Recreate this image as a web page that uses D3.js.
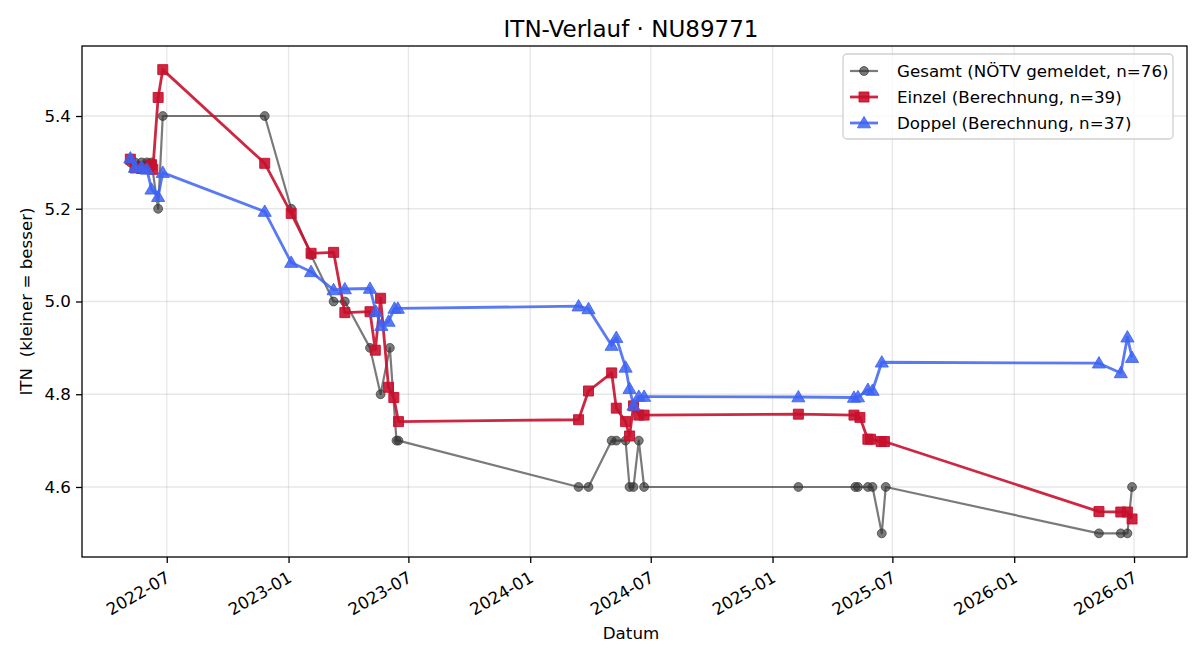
<!DOCTYPE html>
<html><head><meta charset="utf-8">
<script src="https://cdn.jsdelivr.net/npm/d3@7"></script>
<style>
body{margin:0;background:#fff;}
text{font-family:"DejaVu Sans",sans-serif;white-space:pre;}
</style></head>
<body><svg id="c" width="1200" height="660"></svg>
<script>
const title = "ITN-Verlauf · NU89771";
const xLabel = "Datum";
const yLabel = "ITN  (kleiner = besser)";
const yTicks = [4.6, 4.8, 5.0, 5.2, 5.4];
const xTicks = ["2022-07-01","2023-01-01","2023-07-01","2024-01-01","2024-07-01","2025-01-01","2025-07-01","2026-01-01","2026-07-01"];
const seriesNames = ["Gesamt (NÖTV gemeldet, n=76)","Einzel (Berechnung, n=39)","Doppel (Berechnung, n=37)"];

const gesamtDates = ["2022-05-07","2022-05-14","2022-05-24","2022-06-01","2022-06-08","2022-06-18","2022-06-25","2022-11-26","2023-01-05","2023-02-04","2023-03-10","2023-03-27","2023-05-04","2023-05-20","2023-06-03","2023-06-13","2023-06-16","2024-03-14","2024-03-29","2024-05-03","2024-05-10","2024-05-24","2024-05-30","2024-06-05","2024-06-13","2024-06-21","2025-02-09","2025-05-06","2025-05-10","2025-05-25","2025-06-01","2025-06-15","2025-06-21","2026-05-09","2026-06-11","2026-06-21","2026-06-28"];
const gesamtValues = [5.3,5.3,5.3,5.3,5.3,5.2,5.4,5.4,5.2,5.1,5.0,5.0,4.9,4.8,4.9,4.7,4.7,4.6,4.6,4.7,4.7,4.7,4.6,4.6,4.7,4.6,4.6,4.6,4.6,4.6,4.6,4.5,4.6,4.5,4.5,4.5,4.6];

const einzelDates = ["2022-05-07","2022-05-14","2022-05-24","2022-06-08","2022-06-10","2022-06-18","2022-06-25","2022-11-26","2023-01-05","2023-02-04","2023-03-10","2023-03-27","2023-05-04","2023-05-12","2023-05-20","2023-06-01","2023-06-09","2023-06-16","2024-03-14","2024-03-29","2024-05-03","2024-05-10","2024-05-24","2024-05-30","2024-06-05","2024-06-13","2024-06-21","2025-02-09","2025-05-04","2025-05-13","2025-05-25","2025-05-29","2025-06-14","2025-06-19","2026-05-09","2026-06-11","2026-06-21","2026-06-28"];
const einzelValues = [5.307,5.288,5.287,5.295,5.285,5.44,5.50,5.298,5.19,5.104,5.106,4.976,4.978,4.895,5.007,4.815,4.793,4.741,4.745,4.807,4.846,4.77,4.741,4.71,4.775,4.755,4.755,4.757,4.755,4.75,4.703,4.703,4.698,4.698,4.547,4.546,4.546,4.531];

const doppelDates = ["2022-05-07","2022-05-14","2022-05-24","2022-06-01","2022-06-08","2022-06-18","2022-06-25","2022-11-26","2023-01-05","2023-02-04","2023-03-10","2023-03-27","2023-05-04","2023-05-13","2023-05-21","2023-06-01","2023-06-10","2023-06-15","2024-03-14","2024-03-29","2024-05-03","2024-05-10","2024-05-24","2024-05-30","2024-06-05","2024-06-13","2024-06-21","2025-02-09","2025-05-04","2025-05-10","2025-05-25","2025-06-01","2025-06-15","2026-05-09","2026-06-11","2026-06-21","2026-06-28"];
const doppelValues = [5.309,5.289,5.29,5.285,5.242,5.226,5.278,5.194,5.084,5.064,5.025,5.027,5.028,4.978,4.948,4.957,4.985,4.985,4.99,4.984,4.905,4.922,4.858,4.812,4.776,4.795,4.795,4.794,4.793,4.794,4.81,4.808,4.869,4.867,4.846,4.923,4.879];

const parse = d3.utcParse("%Y-%m-%d");
const svg = d3.select("#c");
const L = 82, R = 1187, T = 46, B = 557;
const FS = 16.7;
const x = d3.scaleUtc().domain([parse("2022-02-23"), parse("2026-09-19")]).range([L, R]);
const y = d3.scaleLinear().domain([4.449, 5.551]).range([B, T]);

// grid
const g = svg.append("g");
g.selectAll(".gx").data(xTicks).join("line")
  .attr("x1", d => x(parse(d))).attr("x2", d => x(parse(d)))
  .attr("y1", T).attr("y2", B).attr("stroke", "#b0b0b0").attr("stroke-opacity", 0.3).attr("stroke-width", 1.3);
g.selectAll(".gy").data(yTicks).join("line")
  .attr("x1", L).attr("x2", R)
  .attr("y1", d => y(d)).attr("y2", d => y(d)).attr("stroke", "#b0b0b0").attr("stroke-opacity", 0.3).attr("stroke-width", 1.3);

// axes
const xAxis = d3.axisBottom(x).tickValues(xTicks.map(parse)).tickFormat(d3.utcFormat("%Y-%m")).tickSize(6).tickPadding(3);
const xa = svg.append("g").attr("transform", `translate(0,${B})`).call(xAxis);
xa.select(".domain").remove();
xa.selectAll("line").attr("stroke", "#000").attr("stroke-width", 1.3);
xa.selectAll("text").attr("font-size", FS).attr("fill", "#000")
  .attr("text-anchor", "end").attr("dy", null).attr("y", 0)
  .attr("transform", "translate(4,24) rotate(-30)");

const yAxis = d3.axisLeft(y).tickValues(yTicks).tickFormat(d3.format(".1f")).tickSize(6).tickPadding(5);
const ya = svg.append("g").attr("transform", `translate(${L},0)`).call(yAxis);
ya.select(".domain").remove();
ya.selectAll("line").attr("stroke", "#000").attr("stroke-width", 1.3);
ya.selectAll("text").attr("font-size", FS).attr("fill", "#000");

svg.append("rect").attr("x", L).attr("y", T).attr("width", R - L).attr("height", B - T)
  .attr("fill", "none").attr("stroke", "#000").attr("stroke-width", 1.3);

const series = [
  {name: seriesNames[0], dates: gesamtDates, vals: gesamtValues, color: "#333", op: 0.65, lw: 2.2, shape: "circle"},
  {name: seriesNames[1], dates: einzelDates, vals: einzelValues, color: "#c8102e", op: 0.9, lw: 2.8, shape: "square"},
  {name: seriesNames[2], dates: doppelDates, vals: doppelValues, color: "#3d63f2", op: 0.85, lw: 2.8, shape: "triangle"}
];
const sym = {circle: d3.symbol(d3.symbolCircle, 62), square: d3.symbol(d3.symbolSquare, 100), triangle: d3.symbol(d3.symbolTriangle, 75)};
const line = d3.line().x(d => x(d[0])).y(d => y(d[1]));

series.forEach(s => {
  const pts = s.dates.map((d, i) => [parse(d), s.vals[i]]);
  const gg = svg.append("g");
  gg.append("path").datum(pts).attr("d", line).attr("fill", "none")
    .attr("stroke", s.color).attr("stroke-opacity", s.op).attr("stroke-width", s.lw).attr("stroke-linejoin", "round");
  gg.selectAll("path.m").data(pts).join("path").attr("class", "m")
    .attr("d", sym[s.shape]).attr("transform", d => `translate(${x(d[0])},${y(d[1]) + (s.shape === "triangle" ? 1 : 0)})`)
    .attr("fill", s.color).attr("fill-opacity", s.op).attr("stroke", s.color).attr("stroke-opacity", s.op).attr("stroke-width", 1);
});

// legend
const lg = svg.append("g");
lg.append("rect").attr("x", 843).attr("y", 54).attr("width", 330).attr("height", 85).attr("rx", 4)
  .attr("fill", "#fff").attr("fill-opacity", 0.8).attr("stroke", "#d0d0d0").attr("stroke-width", 1.3);
series.forEach((s, i) => {
  const yy = 71 + i * 26;
  lg.append("line").attr("x1", 850).attr("x2", 878).attr("y1", yy).attr("y2", yy)
    .attr("stroke", s.color).attr("stroke-opacity", s.op).attr("stroke-width", s.lw);
  lg.append("path").attr("d", sym[s.shape]).attr("transform", `translate(864,${yy + (s.shape === "triangle" ? 1 : 0)})`)
    .attr("fill", s.color).attr("fill-opacity", s.op).attr("stroke", s.color).attr("stroke-opacity", s.op);
  lg.append("text").attr("x", 897).attr("y", yy + 6).attr("font-size", FS).text(s.name);
});

svg.append("text").attr("x", 631).attr("y", 37).attr("text-anchor", "middle").attr("font-size", 23).text(title);
svg.append("text").attr("x", 631).attr("y", 639).attr("text-anchor", "middle").attr("font-size", FS).text(xLabel);
svg.append("text").attr("transform", `translate(32,${(T + B) / 2}) rotate(-90)`).attr("text-anchor", "middle").attr("font-size", FS).text(yLabel);
</script></body></html>
